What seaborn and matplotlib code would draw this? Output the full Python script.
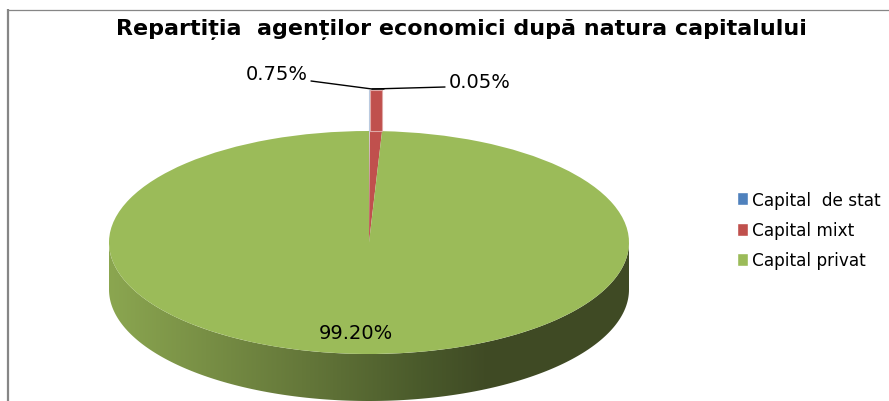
import numpy as np
import matplotlib
matplotlib.use("Agg")
import matplotlib.pyplot as plt
from matplotlib.colors import LinearSegmentedColormap
from matplotlib.patches import Patch, PathPatch
from matplotlib.path import Path
import seaborn as sns

title = "Repartiția  agenților economici după natura capitalului"
categories = ["Capital  de stat", "Capital mixt", "Capital privat"]
shares = [0.05, 0.75, 99.20]
colors = ["#4f81bd", "#c0504d", "#9bbb59"]

sns.set_theme(style="white")
plt.rcParams["font.family"] = ["DejaVu Sans"]
palette = sns.color_palette(colors)

W, H = 889, 402
cx, cy, rx, ry = 369, 243.5, 260, 111.5   # top ellipse of the pie, pixels
depth = 47
lift = 153 / ry                           # how far the thin slices rise above the centre

fig = plt.figure(figsize=(W / 100, H / 100), dpi=100, facecolor="white")

# back layer in pixel coords: frame + side wall of the pie
back = fig.add_axes([0, 0, 1, 1], zorder=1)
back.axis("off")
back.plot([7.5, 7.5], [H, 10], color="#868686", lw=1.6, solid_capstyle="butt")
back.plot([7, W], [10.5, 10.5], color="#868686", lw=0.9, solid_capstyle="butt")

theta = np.linspace(np.pi, 0, 200)
xs = cx + rx * np.cos(theta)
ys = cy + ry * np.sin(theta)
wall = np.column_stack([np.r_[xs, xs[::-1]], np.r_[ys, ys[::-1] + depth]])
wall_patch = PathPatch(Path(np.vstack([wall, wall[:1]]), closed=True), fc="none", ec="none")
back.add_patch(wall_patch)
shade = LinearSegmentedColormap.from_list(
    "wall", [(0, "#8ba650"), (0.37, "#65783a"), (0.6, "#4a5a2b"), (0.72, "#404b25"), (1, "#3f4a24")])
grad = back.imshow(np.linspace(0, 1, 256)[None, :], cmap=shade, aspect="auto",
                   extent=[cx - rx, cx + rx, H, cy])
grad.set_clip_path(wall_patch)
back.set_xlim(0, W)
back.set_ylim(H, 0)

# pie squeezed into the ellipse box
ax = fig.add_axes([(cx - rx) / W, (H - cy - ry) / H, 2 * rx / W, 2 * ry / H], zorder=2)
wedges, _ = ax.pie(shares, colors=palette, startangle=90, counterclock=False, radius=1,
                   wedgeprops={"linewidth": 0, "edgecolor": "none"})
wedges[0].set_edgecolor("#dce6f1")
wedges[0].set_linewidth(0.8)
ax.set_aspect("auto")
ax.set_xlim(-1, 1)
ax.set_ylim(-1, 1)
ax.axis("off")

# the two thin slices stand up above the rim
edges = np.sin(np.radians(np.cumsum([0] + shares) * 3.6))
for i in range(2):
    ax.bar(edges[i], lift - 1, width=edges[i + 1] - edges[i], bottom=1, align="edge",
           color=palette[i], clip_on=False, lw=0.8,
           edgecolor="#b8cce4" if i == 0 else "#dfa9a7")

# front layer: labels, leader lines, legend
front = fig.add_axes([0, 0, 1, 1], zorder=3)
front.set_xlim(0, W)
front.set_ylim(H, 0)
front.axis("off")
front.patch.set_alpha(0)

front.text(461, 29, title, ha="center", va="center", fontsize=16, fontweight="bold",
           color="black")
front.text(277, 75, f"{shares[1]:.2f}%", ha="center", va="center", fontsize=14, color="black")
front.text(480, 82, f"{shares[0]:.2f}%", ha="center", va="center", fontsize=14, color="black")
front.text(356, 334, f"{shares[2]:.2f}%", ha="center", va="center", fontsize=14, color="black")
front.plot([311, 372, 384], [82, 90, 90], color="black", lw=1)
front.plot([372, 445], [90, 88], color="black", lw=1)

handles = [Patch(facecolor=c, label=n) for c, n in zip(palette, categories)]
front.legend(handles=handles, loc="center left", bbox_to_anchor=(737 / W, (H - 231) / H),
             frameon=False, fontsize=12.2, handlelength=0.62, handleheight=0.8,
             handletextpad=0.27, labelspacing=0.72, borderpad=0, borderaxespad=0,
             labelcolor="black")

fig.savefig("out.png", dpi=100)
